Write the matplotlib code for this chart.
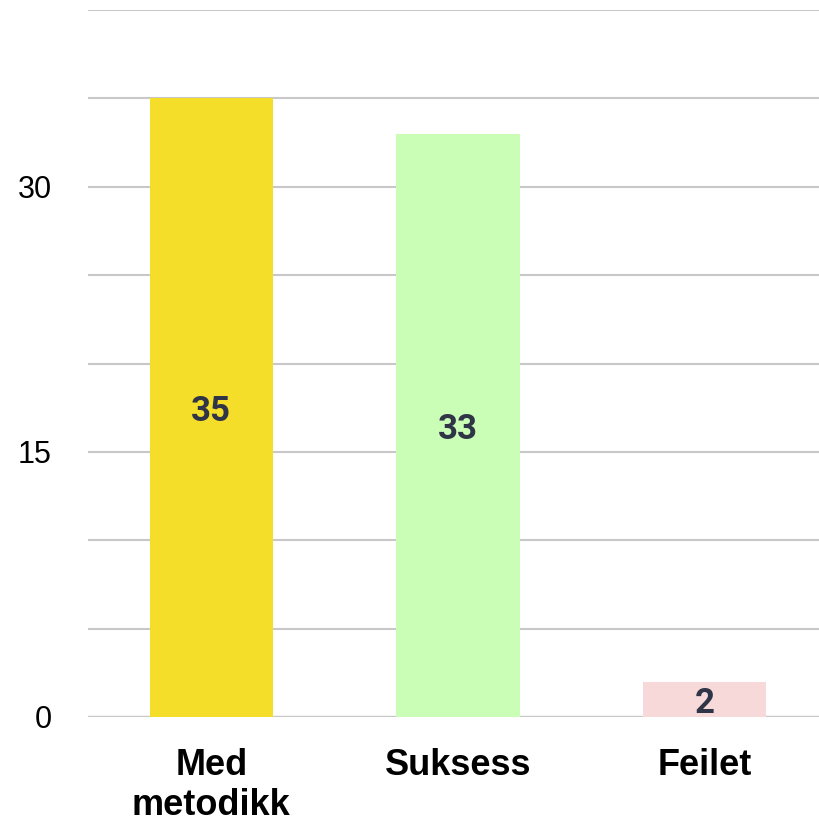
import matplotlib.pyplot as plt

categories = ["Med\nmetodikk", "Suksess", "Feilet"]
values = [35, 33, 2]
colors = ["#F5DE29", "#CAFDB5", "#F7D9DA"]

fig = plt.figure(figsize=(8.2, 8.23), dpi=100)
ax = fig.add_axes([88 / 820, 1 - 717 / 823, (828 - 88) / 820, (717 - 10) / 823])

x = range(len(values))
bars = ax.bar(x, values, width=0.5, color=colors, zorder=2)

for b, v in zip(bars, values):
    ax.annotate(str(v), (b.get_x() + b.get_width() / 2, v / 2), xytext=(0, -3),
                textcoords="offset points", ha="center", va="center",
                fontsize=25, fontweight="bold", color="#2F3447", family="Roboto", zorder=3)

ax.set_xlim(-0.5, 2.5)
ax.set_ylim(0, 40)
ax.set_yticks(range(0, 41, 5))
ax.set_yticklabels(["0", "", "", "15", "", "", "30", "", ""])
ax.yaxis.grid(True, color="#C8C8C8", linewidth=1.5, zorder=1)
ax.axhline(0, color="#D8D8DF", linewidth=2.5, zorder=1)

ax.set_xticks(list(x))
ax.set_xticklabels(categories, fontsize=26, fontweight="bold", family="Liberation Sans",
                   linespacing=1.22, va="top")
for lab in ax.get_yticklabels():
    lab.set_fontsize(22)
    lab.set_family("Liberation Sans")

ax.tick_params(axis="y", length=0, pad=26)
ax.tick_params(axis="x", length=0, pad=22)
for s in ax.spines.values():
    s.set_visible(False)

fig.savefig("out.png", dpi=100)
